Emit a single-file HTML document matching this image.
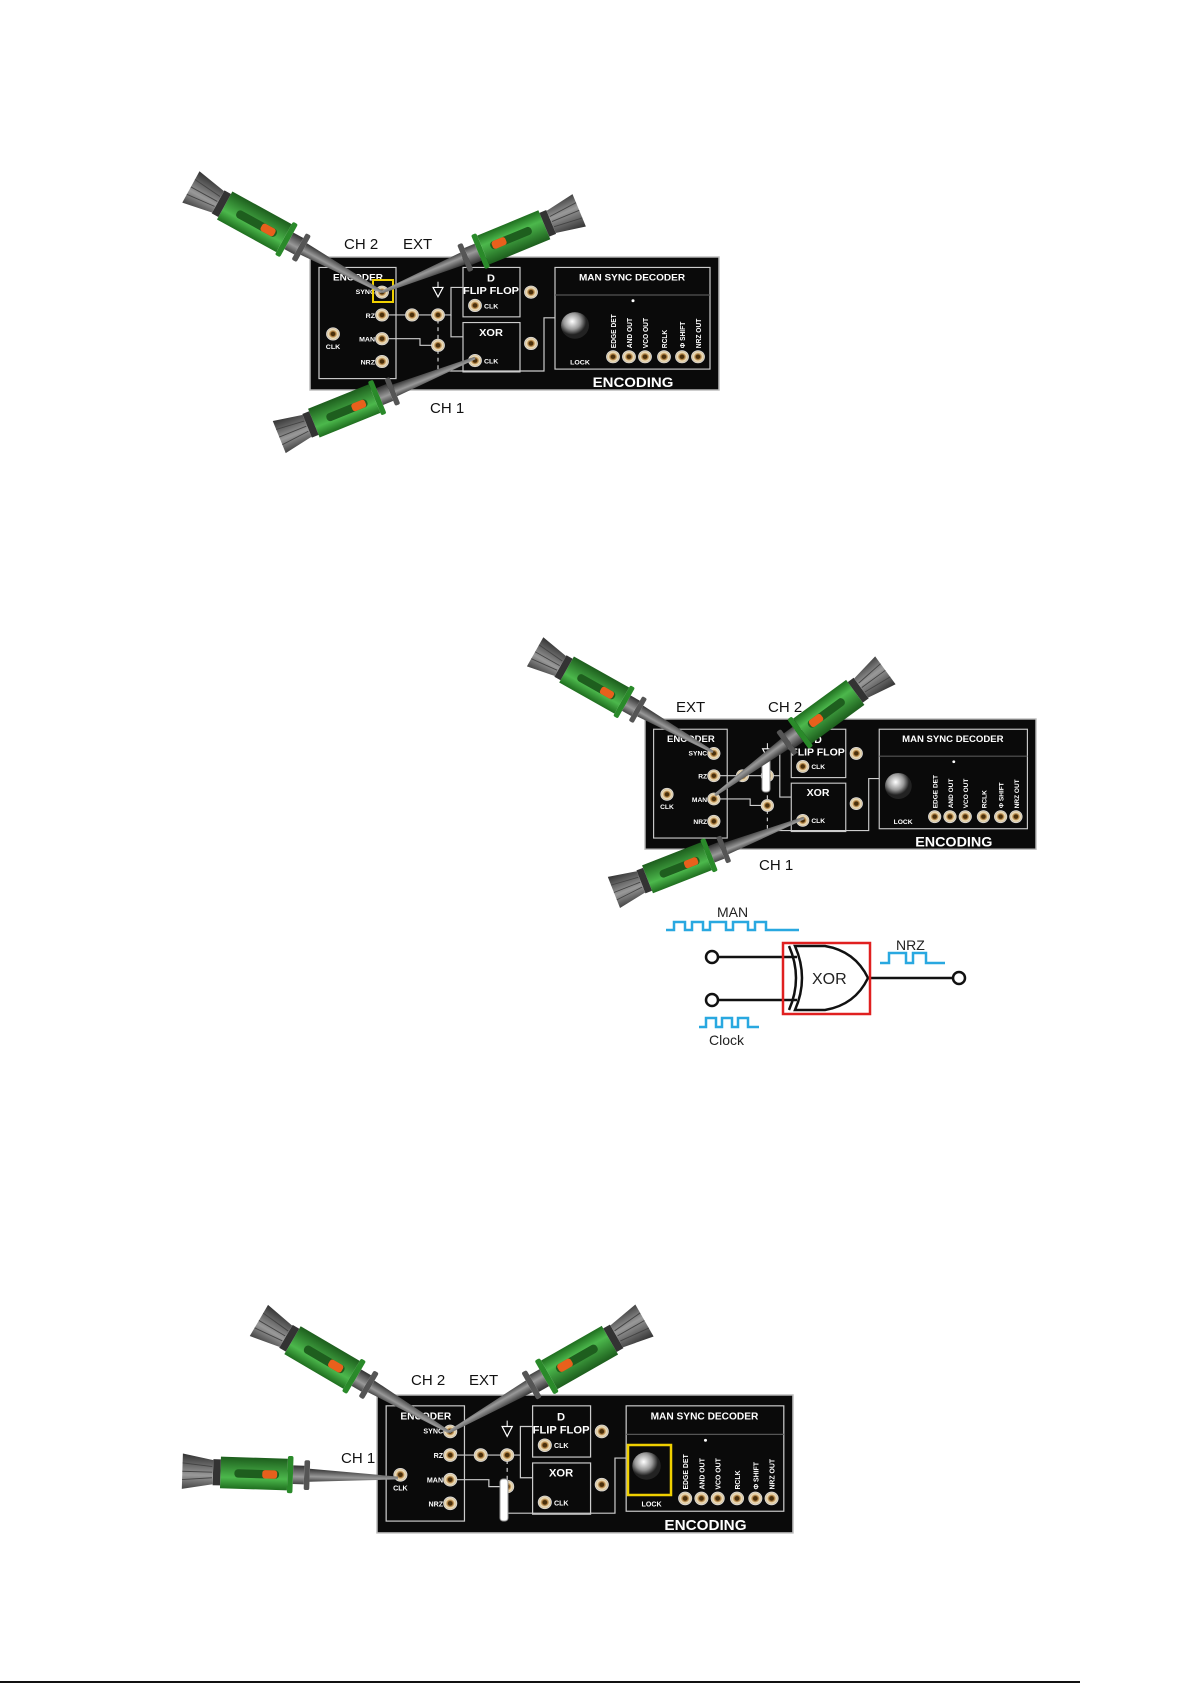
<!DOCTYPE html>
<html><head><meta charset="utf-8"><style>
html,body{margin:0;padding:0;background:#fff;}
svg{display:block;font-family:"Liberation Sans",sans-serif;}
</style></head><body>
<svg width="1193" height="1685" viewBox="0 0 1193 1685" xmlns="http://www.w3.org/2000/svg">
<defs>
<radialGradient id="jg"><stop offset="0" stop-color="#5a3a12"/><stop offset="0.45" stop-color="#b08040"/><stop offset="0.7" stop-color="#f0e2c0"/><stop offset="1" stop-color="#c8b088"/></radialGradient>
<radialGradient id="kg" cx="0.4" cy="0.35"><stop offset="0" stop-color="#fff"/><stop offset="0.6" stop-color="#999"/><stop offset="1" stop-color="#222"/></radialGradient>
<linearGradient id="gb" x1="0" y1="0" x2="0" y2="1"><stop offset="0" stop-color="#1f6e1f"/><stop offset="0.35" stop-color="#4cb84c"/><stop offset="1" stop-color="#1d5e1d"/></linearGradient>
<linearGradient id="gr" x1="0" y1="0" x2="0" y2="1"><stop offset="0" stop-color="#444"/><stop offset="0.4" stop-color="#999"/><stop offset="1" stop-color="#333"/></linearGradient>
<symbol id="j" overflow="visible"><circle r="6.5" fill="url(#jg)" stroke="#ddd" stroke-width="0.8"/><circle r="2.3" fill="#4a300c"/></symbol>
<symbol id="p" overflow="visible">
<polygon points="0,-1.5 95,-7 95,7 0,1.5" fill="url(#gr)"/>
<rect x="95" y="-16" width="6" height="32" rx="2" fill="#555"/>
<rect x="101" y="-10" width="12" height="20" fill="url(#gr)"/>
<rect x="113" y="-20" width="6" height="40" rx="2" fill="#2a8a2a"/>
<rect x="119" y="-17" width="72" height="34" fill="url(#gb)"/>
<rect x="128" y="-5" width="48" height="9" rx="4" fill="#1e5e1e"/>
<rect x="130" y="-5" width="16" height="9" rx="3" fill="#e8601c"/>
<rect x="191" y="-14" width="8" height="28" fill="#333"/>
<polygon points="199,-13 232,-19 232,19 199,13" fill="url(#gr)"/>
<line x1="200" y1="-6" x2="232" y2="-9" stroke="#444"/><line x1="200" y1="0" x2="232" y2="0" stroke="#444"/><line x1="200" y1="6" x2="232" y2="9" stroke="#444"/>
</symbol>
<symbol id="b" overflow="visible">
<rect x="0" y="0" width="409" height="140" fill="#0a0a0a" stroke="#bbb" stroke-width="1.5"/>
<g fill="none" stroke="#ccc" stroke-width="1.2">
<rect x="9" y="11" width="77" height="117"/>
<rect x="153" y="11" width="57" height="52"/>
<rect x="153" y="69" width="57" height="52"/>
<rect x="245" y="11" width="155" height="107"/>
<line x1="245" y1="40" x2="400" y2="40" stroke="#555"/>
<polyline points="72,61 128,61 141,61 141,32 153,32"/>
<polyline points="141,61 141,84 153,84"/>
<polyline points="72,86 110,86 110,93 128,93"/>
<polyline points="128,120 234,120 234,64 245,64"/>
<line x1="128" y1="66" x2="128" y2="120" stroke-dasharray="4,4"/>
</g>
<g fill="#fff" font-weight="bold" font-size="10" text-anchor="middle">
<text x="48" y="25">ENCODER</text>
<text x="181" y="26" font-size="11">D</text>
<text x="181" y="39" font-size="11">FLIP FLOP</text>
<text x="181" y="83" font-size="11">XOR</text>
<text x="322" y="25" font-size="10">MAN SYNC DECODER</text>
<text x="323" y="137" font-size="15">ENCODING</text>
<g font-size="7" text-anchor="end">
<text x="65" y="39">SYNC</text><text x="65" y="64">RZ</text><text x="65" y="89">MAN</text><text x="65" y="113">NRZ</text>
</g>
<text x="23" y="97" font-size="7">CLK</text>
<text x="270" y="113" font-size="7">LOCK</text>
<g font-size="7" text-anchor="start">
<text x="174" y="54">CLK</text><text x="174" y="112">CLK</text>
</g>
<g font-size="7">
<text transform="translate(306,96) rotate(-90)" text-anchor="start">EDGE DET</text>
<text transform="translate(322,96) rotate(-90)" text-anchor="start">AND OUT</text>
<text transform="translate(338,96) rotate(-90)" text-anchor="start">VCO OUT</text>
<text transform="translate(357,96) rotate(-90)" text-anchor="start">RCLK</text>
<text transform="translate(375,96) rotate(-90)" text-anchor="start">Φ SHIFT</text>
<text transform="translate(391,96) rotate(-90)" text-anchor="start">NRZ OUT</text>
</g>
</g>
<polygon points="123,32 133,32 128,42" fill="none" stroke="#fff" stroke-width="1.2"/>
<line x1="128" y1="26" x2="128" y2="32" stroke="#fff"/>
<use href="#j" x="72" y="37"/><use href="#j" x="72" y="61"/><use href="#j" x="72" y="86"/><use href="#j" x="72" y="110"/>
<use href="#j" x="23" y="81"/><use href="#j" x="102" y="61"/><use href="#j" x="128" y="61"/><use href="#j" x="128" y="93"/>
<use href="#j" x="221" y="37"/><use href="#j" x="165" y="51"/><use href="#j" x="221" y="91"/><use href="#j" x="165" y="109"/>
<use href="#j" x="303" y="105"/><use href="#j" x="319" y="105"/><use href="#j" x="335" y="105"/><use href="#j" x="354" y="105"/><use href="#j" x="372" y="105"/><use href="#j" x="388" y="105"/>
<circle cx="265" cy="72" r="14" fill="url(#kg)"/>
<circle cx="323" cy="46" r="1.5" fill="#fff"/>
</symbol>
</defs>

<!-- Board 1 -->
<use href="#b" transform="translate(310,257) scale(1,0.95)"/>
<rect x="373" y="280" width="20" height="22" fill="none" stroke="#f0d000" stroke-width="2"/>
<use href="#p" transform="translate(382,292) rotate(208.8) scale(0.94)"/>
<use href="#p" transform="translate(382,292) rotate(-22.5) scale(0.92)"/>
<use href="#p" transform="translate(475,358) rotate(158) scale(0.91)"/>
<g font-size="15" fill="#111">
<text x="344" y="249">CH 2</text><text x="403" y="249">EXT</text><text x="430" y="413">CH 1</text>
</g>

<!-- Board 2 -->
<use href="#b" transform="translate(645,719) scale(0.956,0.93)"/>
<rect x="762" y="754" width="8" height="38" rx="3" fill="#fff" stroke="#999"/>
<use href="#p" transform="translate(713,752) rotate(209.4) scale(0.88)"/>
<use href="#p" transform="translate(715,795) rotate(-36.2) scale(0.91)"/>
<use href="#p" transform="translate(804,818) rotate(158.6) scale(0.88)"/>
<g font-size="15" fill="#111">
<text x="676" y="712">EXT</text><text x="768" y="712">CH 2</text><text x="759" y="870">CH 1</text>
</g>

<!-- XOR diagram -->
<g font-size="14" fill="#222">
<text x="717" y="917">MAN</text><text x="896" y="950">NRZ</text><text x="709" y="1045">Clock</text><text x="812" y="984" font-size="16">XOR</text>
</g>
<g fill="none" stroke="#29a8e0" stroke-width="2.5">
<polyline points="666,930 674,930 674,922 685,922 685,930 692,930 692,922 703,922 703,930 710,930 710,922 726,922 726,930 733,930 733,922 748,922 748,930 755,930 755,922 766,922 766,930 799,930"/>
<polyline points="880,963 889,963 889,953 906,953 906,963 913,963 913,953 926,953 926,963 945,963"/>
<polyline points="699,1027 706,1027 706,1018 716,1018 716,1027 722,1027 722,1018 732,1018 732,1027 738,1027 738,1018 748,1018 748,1027 759,1027"/>
</g>
<g fill="none" stroke="#111" stroke-width="2.5">
<circle cx="712" cy="957" r="6"/><circle cx="712" cy="1000" r="6"/><circle cx="959" cy="978" r="6"/>
<line x1="718" y1="957" x2="797" y2="957"/><line x1="718" y1="1000" x2="797" y2="1000"/>
<line x1="868" y1="978" x2="953" y2="978"/>
<path d="M789,946 Q803,978 789,1010"/>
<path d="M795,946 L825,946 Q855,951 868,978 Q855,1005 825,1010 L795,1010 Q809,978 795,946 Z"/>
</g>
<rect x="783" y="943" width="87" height="71" fill="none" stroke="#e02020" stroke-width="2.5"/>

<!-- Board 3 -->
<use href="#b" transform="translate(377,1395) scale(1.017,0.985)"/>
<rect x="500" y="1479" width="8" height="42" rx="3" fill="#fff" stroke="#999"/>
<rect x="628" y="1445" width="43" height="50" fill="none" stroke="#f0d000" stroke-width="2.5"/>
<use href="#p" transform="translate(449,1432) rotate(210.4) scale(0.95)"/>
<use href="#p" transform="translate(449,1432) rotate(-29.7) scale(0.97)"/>
<use href="#p" transform="translate(398,1478) rotate(181.8) scale(0.93)"/>
<g font-size="15" fill="#111">
<text x="411" y="1385">CH 2</text><text x="469" y="1385">EXT</text><text x="341" y="1463">CH 1</text>
</g>

<line x1="0" y1="1682" x2="1080" y2="1682" stroke="#111" stroke-width="2"/>
</svg>
</body></html>
